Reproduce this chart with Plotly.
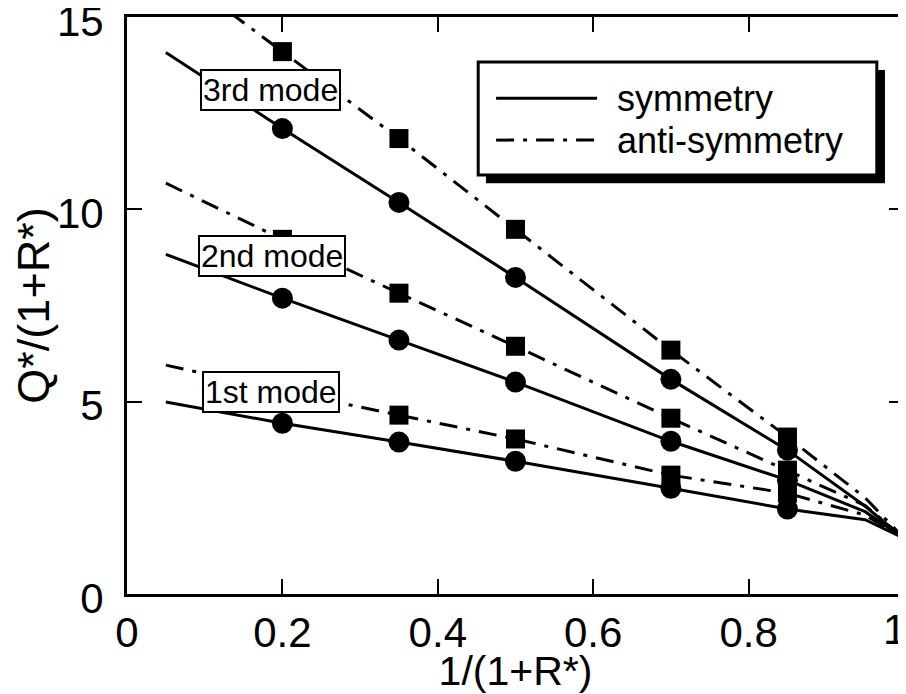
import plotly.graph_objects as go

# ---- data ----
x_line = [0.05, 0.2, 0.35, 0.5, 0.7, 0.85, 0.95, 1.0]
x_pts = [0.2, 0.35, 0.5, 0.7, 0.85]

sym_1st = [4.99, 4.44, 3.95, 3.45, 2.75, 2.21, 1.93, 1.45]
anti_1st = [5.95, 5.28, 4.65, 4.03, 3.09, 2.62, 2.05, 1.45]
sym_2nd = [8.83, 7.69, 6.60, 5.51, 3.97, 2.96, 2.14, 1.45]
anti_2nd = [10.68, 9.22, 7.82, 6.44, 4.57, 3.22, 2.30, 1.45]
sym_3rd = [14.08, 12.10, 10.18, 8.23, 5.58, 3.74, 2.28, 1.45]
anti_3rd = [16.36, 14.10, 11.84, 9.48, 6.34, 4.08, 2.50, 1.45]

mode_labels = ["1st mode", "2nd mode", "3rd mode"]
mode_label_pos = [(0.185, 5.26), (0.186, 8.78), (0.185, 13.10)]
legend_labels = ["symmetry", "anti-symmetry"]

x_ticks = [0, 0.2, 0.4, 0.6, 0.8, 1]
x_ticktext = ["0", "0.2", "0.4", "0.6", "0.8", ""]
x_end_label = "1"   # drawn right-aligned at x=1 so it stays inside the page
y_ticks = [0, 5, 10, 15]
y_ticktext = ["0", "5", "10", "15"]

FONT = "Liberation Sans, Arial, sans-serif"
DASHDOT = "18px,9px,4px,9px"

fig = go.Figure()

sym_series = [sym_1st, sym_2nd, sym_3rd]
anti_series = [anti_1st, anti_2nd, anti_3rd]

for ys in anti_series:
    fig.add_trace(go.Scatter(x=x_line, y=ys, mode="lines",
                             line=dict(color="black", width=3, dash=DASHDOT),
                             showlegend=False, hoverinfo="skip"))
for ys in sym_series:
    fig.add_trace(go.Scatter(x=x_line, y=ys, mode="lines",
                             line=dict(color="black", width=3),
                             showlegend=False, hoverinfo="skip"))
for ys in anti_series:
    fig.add_trace(go.Scatter(x=x_pts, y=ys[1:6], mode="markers",
                             marker=dict(symbol="square", size=19, color="black"),
                             showlegend=False))
for ys in sym_series:
    fig.add_trace(go.Scatter(x=x_pts, y=ys[1:6], mode="markers",
                             marker=dict(symbol="circle", size=21, color="black"),
                             showlegend=False))

# mode labels
for lab, (lx, ly) in zip(mode_labels, mode_label_pos):
    fig.add_annotation(x=lx, y=ly, xref="x", yref="y", text=lab, showarrow=False,
                       font=dict(family=FONT, size=32, color="black"),
                       bgcolor="white", bordercolor="black", borderwidth=2, borderpad=1)

# legend box (drawn by hand: shadow + box + samples + text)
shapes = [
    dict(type="rect", xref="x", yref="y", x0=0.462, x1=0.9755, y0=10.68, y1=13.62,
         fillcolor="black", line=dict(color="black", width=0), layer="above"),
    dict(type="rect", xref="x", yref="y", x0=0.452, x1=0.965, y0=10.89, y1=13.83,
         fillcolor="white", line=dict(color="black", width=3), layer="above"),
    dict(type="line", xref="x", yref="y", x0=0.475, x1=0.605, y0=12.89, y1=12.89,
         line=dict(color="black", width=3), layer="above"),
    dict(type="line", xref="x", yref="y", x0=0.475, x1=0.605, y0=11.80, y1=11.80,
         line=dict(color="black", width=3, dash=DASHDOT), layer="above"),
]
fig.update_layout(shapes=shapes)
for lab, ly in zip(legend_labels, [12.89, 11.80]):
    fig.add_annotation(x=0.628, y=ly, xref="x", yref="y", text=lab, showarrow=False,
                       xanchor="left", yanchor="middle",
                       font=dict(family=FONT, size=36, color="black"))

# end tick label "1" of the x axis
fig.add_annotation(x=1, y=0, xref="x", yref="y", text=x_end_label, showarrow=False,
                   xanchor="right", yanchor="top", xshift=4, yshift=-10,
                   font=dict(family=FONT, size=42, color="black"))

axis_common = dict(showgrid=False, zeroline=False, showline=True, linecolor="black",
                   linewidth=3, mirror="ticks", ticks="inside", ticklen=15,
                   tickwidth=1.5, tickcolor="black", ticklabeloverflow="allow",
                   automargin=False,
                   tickfont=dict(family=FONT, size=42, color="black"))

fig.update_xaxes(range=[0, 1], tickvals=x_ticks, ticktext=x_ticktext,
                 title=dict(text="1/(1+R*)", font=dict(family=FONT, size=41, color="black"),
                            standoff=0),
                 ticklabelstandoff=0, **axis_common)
fig.update_yaxes(range=[0, 15], tickvals=y_ticks, ticktext=y_ticktext,
                 title=dict(text="Q*/(1+R*)", font=dict(family=FONT, size=45, color="black"),
                            standoff=8),
                 ticklabelstandoff=12, ticklabelshift=4, **axis_common)

# the page body has an 8px margin, so the figure is sized/margined to compensate
fig.update_layout(width=898, height=686, plot_bgcolor="white", paper_bgcolor="white",
                  margin=dict(l=119, r=2, t=9, b=100), showlegend=False,
                  font=dict(family=FONT, color="black"))

fig.write_html("out.html")
